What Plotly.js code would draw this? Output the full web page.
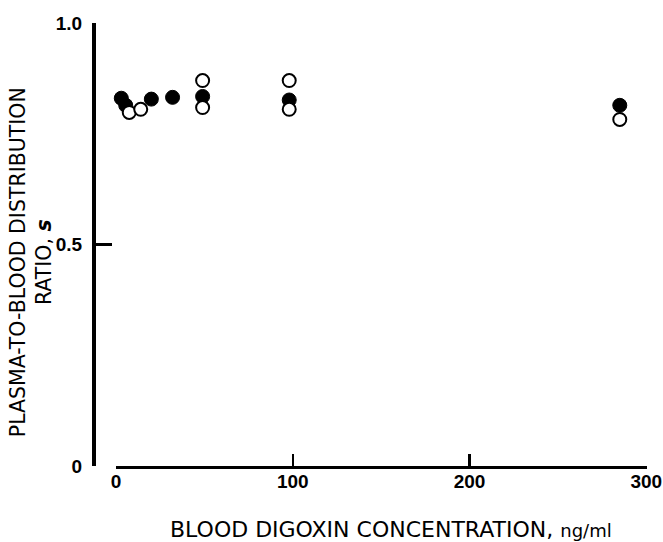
<!DOCTYPE html>
<html>
<head>
<meta charset="utf-8">
<script src="https://cdn.plot.ly/plotly-3.0.1.min.js"></script>
<style>html,body{margin:0;padding:0;background:#fff;}#chart{width:663px;height:542px;}</style>
</head>
<body>
<div id="chart"></div>
<script>
// Filled circles
const filledX = [3, 5.5, 20, 32, 49, 98, 285];
const filledY = [0.831, 0.815, 0.829, 0.833, 0.835, 0.827, 0.815];
// Open circles
const openX = [7.5, 14, 49, 49, 98, 98, 285];
const openY = [0.799, 0.806, 0.871, 0.810, 0.871, 0.806, 0.783];

const xTickVals = [0, 100, 200, 300];
const xTickText = ['0', '100', '200', '300'];
const yTickVals = [0, 0.5, 1.0];
const yTickText = ['0', '0.5', '1.0'];

const xTitle = 'BLOOD DIGOXIN CONCENTRATION, <span style="font-size:18px">ng/ml</span>';
const yTitle = 'PLASMA-TO-BLOOD DISTRIBUTION<br>RATIO, <i><b>s</b></i>';

const tickFontFamily = 'Liberation Sans, Arial, Helvetica, sans-serif';
const titleFontFamily = 'DejaVu Sans, Liberation Sans, Arial, sans-serif';

const traces = [
  {
    x: filledX, y: filledY, type: 'scatter', mode: 'markers',
    marker: {symbol: 'circle', size: 14, color: '#000', line: {color: '#000', width: 1}},
    cliponaxis: false, showlegend: false, hoverinfo: 'x+y'
  },
  {
    x: openX, y: openY, type: 'scatter', mode: 'markers',
    marker: {symbol: 'circle', size: 13, color: '#fff', line: {color: '#000', width: 2}},
    cliponaxis: false, showlegend: false, hoverinfo: 'x+y'
  }
];

const layout = {
  width: 663, height: 542,
  margin: {l: 93, r: 16, t: 23, b: 76},
  paper_bgcolor: '#fff', plot_bgcolor: '#fff',
  showlegend: false,
  font: {family: tickFontFamily, color: '#000'},
  xaxis: {
    domain: [0.0415, 1],
    range: [0, 300.4],
    anchor: 'y',
    showgrid: false, zeroline: false,
    showline: true, linecolor: '#000', linewidth: 3,
    ticks: 'inside', ticklen: 12, tickwidth: 2.5, tickcolor: '#000',
    tickvals: xTickVals, ticktext: xTickText,
    ticklabeloverflow: 'allow',
    ticklabelstandoff: -4,
    tickfont: {family: tickFontFamily, size: 19, color: '#000', weight: 'bold'}
  },
  yaxis: {
    domain: [0, 1],
    range: [0, 1.001],
    anchor: 'free', position: 0,
    showgrid: false, zeroline: false,
    showline: true, linecolor: '#000', linewidth: 3.5,
    ticks: 'inside', ticklen: 16, tickwidth: 3, tickcolor: '#000',
    tickvals: yTickVals, ticktext: yTickText,
    ticklabeloverflow: 'allow',
    ticklabelstandoff: 6,
    tickfont: {family: tickFontFamily, size: 19, color: '#000', weight: 'bold'}
  },
  annotations: [
    {
      text: xTitle, xref: 'paper', yref: 'paper',
      x: 0.538, y: 0, xanchor: 'center', yanchor: 'top', yshift: -49,
      showarrow: false, font: {family: titleFontFamily, size: 22, color: '#000'}
    },
    {
      text: yTitle, xref: 'paper', yref: 'paper',
      x: 0, y: 0.46, xanchor: 'center', yanchor: 'middle', xshift: -62,
      textangle: -90, showarrow: false,
      font: {family: titleFontFamily, size: 20.5, color: '#000'}
    }
  ]
};

Plotly.newPlot('chart', traces, layout, {displayModeBar: false, staticPlot: true});
</script>
</body>
</html>
